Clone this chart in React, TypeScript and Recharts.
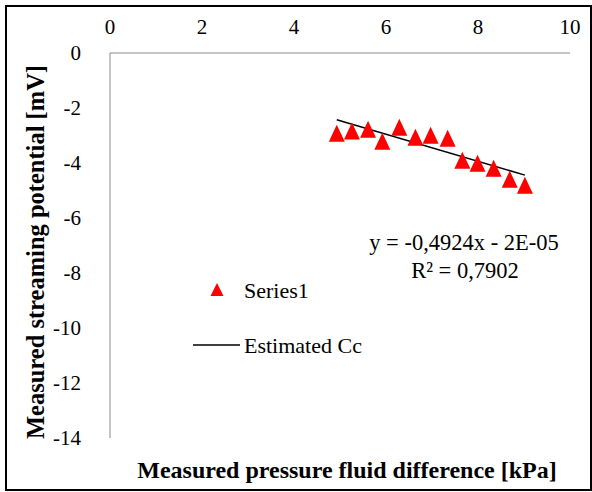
import { Scatter, ScatterChart, XAxis, YAxis } from "recharts"

const pressureKPa = [4.93, 5.26, 5.61, 5.92, 6.29, 6.64, 6.97, 7.34, 7.66, 7.99, 8.34, 8.69, 9.02]
const potentialMV = [-2.92, -2.84, -2.77, -3.21, -2.7, -3.06, -2.99, -3.1, -3.9, -4.01, -4.19, -4.59, -4.81]

// end points of the estimated Cc line
const trendX = [4.93, 9.02]
const trendY = [-2.43, -4.44]

const xTicks = [0, 2, 4, 6, 8, 10]
const yTicks = [0, -2, -4, -6, -8, -10, -12, -14]

const points = pressureKPa.map((x, i) => ({ x, y: potentialMV[i] }))
const trend = trendX.map((x, i) => ({ x, y: trendY[i] }))

const FONT = "'Liberation Serif', 'Times New Roman', serif"
const AXIS_GRAY = "#8c8c8c"

function Triangle(props: any) {
  const { cx, cy } = props
  if (cx == null || cy == null) return null
  return (
    <polygon
      points={`${cx},${cy - 8.5} ${cx - 8},${cy + 8.5} ${cx + 8},${cy + 8.5}`}
      fill="#ff0000"
    />
  )
}

export default function App() {
  return (
    <div
      style={{
        position: "absolute",
        left: 0,
        top: 0,
        width: 592,
        height: 492,
        background: "#fff",
        fontFamily: FONT,
      }}
    >
      <div
        style={{
          position: "absolute",
          left: 5,
          top: 5,
          width: 583,
          height: 482,
          border: "2px solid #000",
        }}
      />
      <ScatterChart
        width={592}
        height={492}
        margin={{ top: 23, right: 22, bottom: 54, left: 30 }}
        style={{ position: "absolute", left: 0, top: 0, fontFamily: FONT }}
      >
        <XAxis
          type="number"
          dataKey="x"
          orientation="top"
          domain={[0, 10]}
          ticks={xTicks}
          height={30}
          axisLine={{ stroke: AXIS_GRAY }}
          tickLine={false}
          tickSize={0}
          tickMargin={19}
          tick={{ fill: "#000", fontSize: 21, fontFamily: FONT }}
        />
        <YAxis
          type="number"
          dataKey="y"
          domain={[-14, 0]}
          ticks={yTicks}
          width={80}
          axisLine={{ stroke: AXIS_GRAY }}
          tickLine={false}
          tickSize={0}
          tickMargin={29}
          tick={{ fill: "#000", fontSize: 21, fontFamily: FONT }}
        />
        <Scatter
          name="Estimated Cc"
          data={trend}
          line={{ stroke: "#000", strokeWidth: 1.5 }}
          shape={() => null}
          isAnimationActive={false}
        />
        <Scatter name="Series1" data={points} shape={<Triangle />} isAnimationActive={false} />

        {/* legend */}
        <polygon points="217,283 210.5,296 223.5,296" fill="#ff0000" />
        <text x={244} y={298} fontFamily={FONT} fontSize={22} fill="#000">
          Series1
        </text>
        <line x1={193} y1={345} x2={240} y2={345} stroke="#000" strokeWidth={1.5} />
        <text x={244} y={353} fontFamily={FONT} fontSize={22} fill="#000">
          Estimated Cc
        </text>

        <text x={464} y={250} textAnchor="middle" fontFamily={FONT} fontSize={22.5} fill="#000">
          y = -0,4924x - 2E-05
        </text>
        <text x={465} y={278} textAnchor="middle" fontFamily={FONT} fontSize={22.5} fill="#000">
          R² = 0,7902
        </text>
        <text
          x={347}
          y={478}
          textAnchor="middle"
          fontFamily={FONT}
          fontSize={24}
          fontWeight="bold"
          fill="#000"
        >
          Measured pressure fluid difference [kPa]
        </text>
        <text
          x={44}
          y={252}
          textAnchor="middle"
          fontFamily={FONT}
          fontSize={24.5}
          fontWeight="bold"
          fill="#000"
          transform="rotate(-90 44 252)"
        >
          Measured streaming potential [mV]
        </text>
      </ScatterChart>
    </div>
  )
}
